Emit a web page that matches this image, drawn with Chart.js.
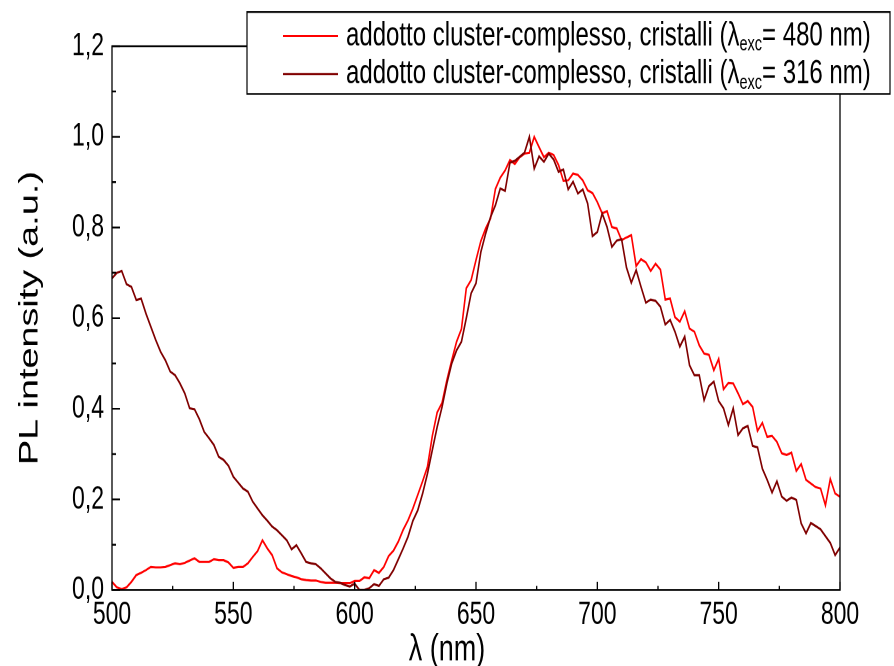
<!DOCTYPE html>
<html>
<head>
<meta charset="utf-8">
<title>PL spectra</title>
<script src="https://cdn.jsdelivr.net/npm/chart.js@4.4.1/dist/chart.umd.min.js"></script>
<style>
body { margin:0; background:#fff; }
#wrap { width:894px; height:666px; overflow:hidden; }
/* the reference is stretched vertically, so draw at 476px and stretch */
#canvas { display:block; transform-origin:0 0; transform:scaleY(1.39916); }
</style>
</head>
<body>
<div id="wrap"><canvas id="canvas" width="894" height="476"></canvas></div>
<script>
var wavelength = [
  500,502,504,506,508,510,512,514,516,518,
  520,522,524,526,528,530,532,534,536,538,
  540,542,544,546,548,550,552,554,556,558,
  560,562,564,566,568,570,572,574,576,578,
  580,582,584,586,588,590,592,594,596,598,
  600,602,604,606,608,610,612,614,616,618,
  620,622,624,626,628,630,632,634,636,638,
  640,642,644,646,648,650,652,654,656,658,
  660,662,664,666,668,670,672,674,676,678,
  680,682,684,686,688,690,692,694,696,698,
  700,702,704,706,708,710,712,714,716,718,
  720,722,724,726,728,730,732,734,736,738,
  740,742,744,746,748,750,752,754,756,758,
  760,762,764,766,768,770,772,774,776,778,
  780,782,784,786,788,790,792,794,796,798,
  800
];
var pl480 = [
  0.018,0.006,0.002,0.006,0.018,0.033,0.038,0.044,0.051,0.050,
  0.050,0.051,0.055,0.059,0.057,0.060,0.065,0.070,0.062,0.062,
  0.062,0.068,0.066,0.066,0.061,0.049,0.051,0.051,0.059,0.073,
  0.086,0.110,0.092,0.077,0.048,0.039,0.035,0.031,0.028,0.024,
  0.022,0.021,0.021,0.018,0.016,0.016,0.016,0.015,0.015,0.015,
  0.020,0.020,0.028,0.026,0.044,0.038,0.051,0.075,0.087,0.107,
  0.133,0.154,0.180,0.210,0.240,0.272,0.340,0.392,0.413,0.463,
  0.507,0.548,0.576,0.666,0.684,0.728,0.770,0.798,0.820,0.885,
  0.910,0.926,0.949,0.940,0.955,0.963,0.965,1.000,0.977,0.955,
  0.965,0.960,0.938,0.903,0.904,0.919,0.916,0.904,0.882,0.876,
  0.856,0.831,0.836,0.801,0.798,0.772,0.778,0.783,0.715,0.730,
  0.723,0.704,0.720,0.707,0.641,0.643,0.602,0.592,0.615,0.577,
  0.570,0.540,0.522,0.519,0.485,0.510,0.443,0.457,0.456,0.434,
  0.410,0.417,0.404,0.351,0.369,0.338,0.340,0.327,0.302,0.298,
  0.303,0.263,0.278,0.243,0.235,0.227,0.224,0.187,0.245,0.213,
  0.206
];
var pl316 = [
  0.688,0.700,0.704,0.675,0.669,0.640,0.643,0.610,0.581,0.552,
  0.526,0.507,0.482,0.474,0.456,0.434,0.401,0.399,0.377,0.349,
  0.335,0.320,0.294,0.287,0.274,0.250,0.237,0.224,0.217,0.195,
  0.180,0.165,0.153,0.140,0.132,0.121,0.110,0.090,0.099,0.081,
  0.062,0.059,0.057,0.048,0.037,0.026,0.018,0.016,0.011,0.008,
  0.014,0.000,0.000,0.004,0.013,0.009,0.024,0.027,0.044,0.068,
  0.092,0.118,0.153,0.176,0.213,0.257,0.309,0.360,0.404,0.456,
  0.500,0.529,0.548,0.600,0.655,0.677,0.746,0.787,0.823,0.849,
  0.886,0.881,0.943,0.947,0.956,0.965,1.000,0.930,0.957,0.945,
  0.963,0.950,0.923,0.928,0.884,0.901,0.875,0.884,0.853,0.781,
  0.790,0.831,0.801,0.757,0.771,0.774,0.712,0.678,0.706,0.669,
  0.634,0.641,0.638,0.625,0.586,0.596,0.570,0.537,0.559,0.496,
  0.474,0.474,0.419,0.450,0.460,0.417,0.401,0.364,0.401,0.342,
  0.357,0.362,0.318,0.315,0.268,0.243,0.215,0.240,0.206,0.197,
  0.204,0.199,0.147,0.125,0.148,0.141,0.134,0.119,0.104,0.077,
  0.094
];
var seriesNames = ['addotto cluster-complesso, cristalli (λexc= 480 nm)',
                   'addotto cluster-complesso, cristalli (λexc= 316 nm)'];
var legendPre = 'addotto cluster-complesso, cristalli (λ';
var legendSub = 'exc';
var legendPost = ['= 480 nm)', '= 316 nm)'];
var seriesColors = ['#ff0000', '#800000'];

var FONT = '"Liberation Sans", Arial, sans-serif';
Chart.defaults.font.family = FONT;
Chart.defaults.color = '#000';

function points(ys) {
  var out = [];
  for (var i = 0; i < wavelength.length; i++) out.push({x: wavelength[i], y: ys[i]});
  return out;
}

// frame, inward ticks, x title and the legend box
var decor = {
  id: 'decor',
  afterDraw: function(chart) {
    var ctx = chart.ctx, a = chart.chartArea, xs = chart.scales.x, ys = chart.scales.y;
    ctx.save();
    ctx.strokeStyle = '#000';
    ctx.lineWidth = 1.3;
    ctx.strokeRect(a.left, a.top, a.right - a.left, a.bottom - a.top);

    ctx.beginPath();
    for (var v = 500; v <= 800; v += 25) {
      var px = xs.getPixelForValue(v);
      var len = (v % 50 === 0) ? 5.8 : 3;
      ctx.moveTo(px, a.bottom); ctx.lineTo(px, a.bottom - len);
    }
    for (var k = 0; k <= 12; k++) {
      var py = ys.getPixelForValue(k / 10);
      var l2 = (k % 2 === 0) ? 8 : 4;
      ctx.moveTo(a.left, py); ctx.lineTo(a.left + l2, py);
    }
    ctx.stroke();

    // x title
    ctx.fillStyle = '#000';
    ctx.font = '27px ' + FONT;
    ctx.textAlign = 'center';
    ctx.textBaseline = 'middle';
    ctx.fillText('λ (nm)', 447, 464.5);

    // legend
    ctx.fillStyle = '#fff';
    ctx.fillRect(247, 8.6, 643, 58.6);
    ctx.lineWidth = 1.2;
    ctx.strokeRect(247, 8.6, 643, 58.6);
    var rows = [25.7, 52.9];
    for (var i = 0; i < 2; i++) {
      var y = rows[i];
      ctx.strokeStyle = seriesColors[i];
      ctx.lineWidth = 1.5;
      ctx.beginPath(); ctx.moveTo(283, y); ctx.lineTo(338, y); ctx.stroke();
      ctx.fillStyle = '#000';
      ctx.textAlign = 'left';
      ctx.font = '24px ' + FONT;
      var x = 346;
      ctx.fillText(legendPre, x, y);
      x += ctx.measureText(legendPre).width;
      ctx.font = '14.5px ' + FONT;
      ctx.fillText(legendSub, x, y + 6.5);
      x += ctx.measureText(legendSub).width;
      ctx.font = '24px ' + FONT;
      ctx.fillText(legendPost[i], x, y);
    }
    ctx.restore();
  }
};

var chart = new Chart(document.getElementById('canvas'), {
  type: 'line',
  data: {
    datasets: [{
      label: seriesNames[0],
      data: points(pl480),
      borderColor: seriesColors[0],
      borderWidth: 1.6,
      pointRadius: 0,
      tension: 0,
      fill: false,
      order: 1
    }, {
      label: seriesNames[1],
      data: points(pl316),
      borderColor: seriesColors[1],
      borderWidth: 1.6,
      pointRadius: 0,
      tension: 0,
      fill: false,
      order: 0
    }]
  },
  options: {
    responsive: false,
    animation: false,
    devicePixelRatio: 2,
    layout: { padding: { top: 33, right: 54, left: 0, bottom: 0 } },
    plugins: { legend: { display: false }, tooltip: { enabled: false } },
    scales: {
      x: {
        type: 'linear',
        min: 500, max: 800,
        grid: { display: false, drawTicks: false },
        border: { display: false },
        ticks: { stepSize: 50, padding: 4, font: { size: 23 }, maxRotation: 0 },
        afterFit: function(s) { s.height = 54.3; }
      },
      y: {
        min: 0, max: 1.2,
        grid: { display: false, drawTicks: false },
        border: { display: false },
        ticks: {
          stepSize: 0.2, padding: 8, font: { size: 23 },
          callback: function(v) { return v.toFixed(1).replace('.', ','); }
        },
        title: {
          display: true, text: 'PL intensity (a.u.)',
          font: { size: 27, lineHeight: 1.2 },
          padding: { top: 14, bottom: 0 }
        },
        afterFit: function(s) { s.width = 112; }
      }
    }
  },
  plugins: [decor]
});
</script>
</body>
</html>
